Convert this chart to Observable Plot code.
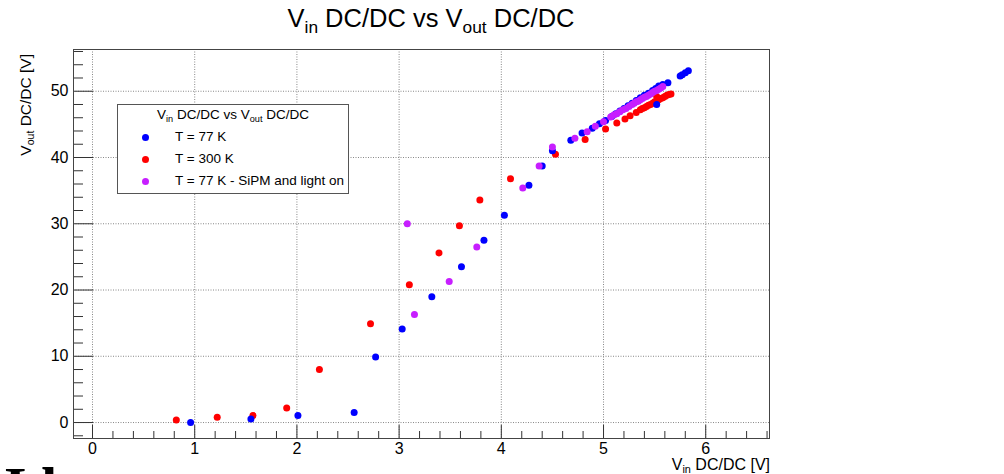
<!DOCTYPE html>
<html>
<head>
<meta charset="utf-8">
<script src="https://cdn.jsdelivr.net/npm/d3@7"></script>
<script src="https://cdn.jsdelivr.net/npm/@observablehq/plot@0.6"></script>
<style>
  html, body { margin: 0; padding: 0; background: #fff; overflow: hidden; }
  #wrap { position: relative; width: 1004px; height: 474px; font-family: "Liberation Sans", Arial, sans-serif; color: #000; }
  #chart { position: absolute; left: 0; top: 0; }
  .sub { font-size: 0.68em; position: relative; top: 0.32em; }
  #title { position: absolute; left: 0; top: 4px; width: 862px; text-align: center; font-size: 25.5px; white-space: nowrap; }
  #xtitle { position: absolute; right: 234px; top: 456px; font-size: 16px; line-height: 17px; white-space: nowrap; }
  #ytitle { position: absolute; left: 26px; top: 54px; font-size: 15.5px; white-space: nowrap;
            transform-origin: 0 0; transform: rotate(-90deg) translate(-100%, -50%); }
  #legend { position: absolute; left: 117px; top: 104px; width: 230px; height: 88px;
            border: 1px solid #555; background: #fff; font-size: 13.5px; }
  #legend .head { position: absolute; left: 0; right: 0; top: 2px; text-align: center; white-space: nowrap; }
  #legend .row { position: absolute; left: 0; white-space: nowrap; }
  #legend .dot { position: absolute; left: 24px; width: 7px; height: 7px; border-radius: 50%; }
  #legend .lab { position: absolute; left: 57px; top: 0; }
  #frag { position: absolute; left: 4px; top: 473px; font-family: "Liberation Serif", serif; font-weight: bold;
          font-size: 58px; line-height: 30px; height: 30px; white-space: nowrap; }
</style>
</head>
<body>
<div id="wrap">
  <div id="chart"></div>
  <div id="title">V<span class="sub">in</span> DC/DC vs V<span class="sub">out</span> DC/DC</div>
  <div id="ytitle">V<span class="sub">out</span> DC/DC [V]</div>
  <div id="xtitle">V<span class="sub">in</span> DC/DC [V]</div>
  <div id="legend"></div>
  <div id="frag">I have</div>
</div>
<script>
// T = 77 K
const vin77  = [0.96, 1.55, 2.01, 2.56, 2.77, 3.03, 3.32, 3.61, 3.83, 4.03, 4.27, 4.40, 4.50, 4.68, 4.79, 4.89, 4.96, 5.02,
                5.08, 5.12, 5.16, 5.20, 5.24, 5.28, 5.32, 5.36, 5.40, 5.44, 5.48, 5.51, 5.54, 5.52, 5.58, 5.63,
                5.75, 5.77, 5.80, 5.83];
const vout77 = [0.0, 0.55, 1.05, 1.5, 9.9, 14.1, 19.0, 23.5, 27.5, 31.3, 35.8, 38.7, 41.0, 42.6, 43.7, 44.4, 45.1, 45.6,
                46.2, 46.6, 47.0, 47.4, 47.8, 48.2, 48.6, 49.0, 49.4, 49.7, 50.1, 50.4, 50.8, 48.0, 51.0, 51.3,
                52.3, 52.5, 52.8, 53.1];

// T = 300 K
const vin300  = [0.82, 1.22, 1.57, 1.90, 2.22, 2.72, 3.10, 3.39, 3.59, 3.79, 4.09, 4.53, 4.82, 5.02, 5.13, 5.21, 5.26, 5.32,
                 5.36, 5.38, 5.40, 5.42, 5.44, 5.46, 5.48, 5.50, 5.52, 5.52, 5.54, 5.56, 5.58, 5.60, 5.62, 5.64, 5.66];
const vout300 = [0.4, 0.8, 1.05, 2.2, 8.0, 14.9, 20.8, 25.6, 29.7, 33.6, 36.8, 40.5, 42.7, 44.3, 45.2, 45.8, 46.3, 46.8,
                 47.2, 47.4, 47.5, 47.7, 47.9, 48.0, 48.2, 48.4, 48.5, 49.2, 48.7, 48.9, 49.0, 49.2, 49.4, 49.5, 49.6];

// T = 77 K - SiPM and light on
const vinLight  = [3.08, 3.15, 3.49, 3.76, 4.21, 4.37, 4.50, 4.72, 4.84, 4.92, 5.00,
                   5.07, 5.10, 5.13, 5.16, 5.19, 5.22, 5.25, 5.28, 5.30, 5.32, 5.34, 5.36, 5.38, 5.40, 5.42, 5.44,
                   5.46, 5.48, 5.50, 5.52, 5.54, 5.56, 5.58];
const voutLight = [30.0, 16.3, 21.3, 26.5, 35.4, 38.7, 41.6, 42.9, 43.9, 44.7, 45.4,
                   46.1, 46.4, 46.6, 46.9, 47.2, 47.4, 47.7, 48.0, 48.2, 48.4, 48.5, 48.7, 48.9, 49.1, 49.2, 49.4,
                   49.6, 49.8, 50.0, 50.1, 50.3, 50.5, 50.7];

const seriesNames  = ["T = 77 K", "T = 300 K", "T = 77 K - SiPM and light on"];
const seriesColors = ["#0000ff", "#ff0000", "#c71eff"];

const xMajorTicks = [0, 1, 2, 3, 4, 5, 6];
const yMajorTicks = [0, 10, 20, 30, 40, 50];

// Build a long table, one row per measurement
const rows = [];
[[vin300, vout300, 1], [vin77, vout77, 0], [vinLight, voutLight, 2]].forEach(([xs, ys, k]) => {
  xs.forEach((v, i) => rows.push({vin: v, vout: ys[i], series: seriesNames[k]}));
});

const W = 1004, H = 474;
const mL = 73, mR = 235, mT = 49, mB = 36;
const frameW = W - mL - mR, frameH = H - mT - mB;

const xMinor = d3.range(0, 6.61, 0.2).filter(v => Math.abs(v - Math.round(v)) > 1e-6);
const yMinor = d3.range(-2, 56.1, 2).filter(v => v % 10 !== 0);

const chart = Plot.plot({
  width: W, height: H,
  marginLeft: mL, marginRight: mR, marginTop: mT, marginBottom: mB,
  style: {fontFamily: "Liberation Sans, Arial, sans-serif", fontSize: "16px", background: "transparent", color: "#000"},
  x: {domain: [-0.186, 6.624], label: null},
  y: {domain: [-2.41, 56.3], label: null},
  color: {domain: seriesNames, range: seriesColors},
  marks: [
    // dotted grid
    Plot.ruleX(xMajorTicks, {stroke: "#888", strokeWidth: 1, strokeDasharray: "1,1.5"}),
    Plot.ruleY(yMajorTicks, {stroke: "#888", strokeWidth: 1, strokeDasharray: "1,1.5"}),
    // inward ticks on the bottom and left axes
    Plot.ruleX(xMajorTicks, {insetTop: frameH - 13, stroke: "#333"}),
    Plot.ruleX(xMinor, {insetTop: frameH - 7, stroke: "#333"}),
    Plot.ruleY(yMajorTicks, {insetRight: frameW - 20, stroke: "#333"}),
    Plot.ruleY(yMinor, {insetRight: frameW - 10, stroke: "#333"}),
    Plot.frame({stroke: "#444", strokeWidth: 1}),
    Plot.axisX({ticks: xMajorTicks, tickSize: 0, tickPadding: 4, tickFormat: d => String(d), label: null}),
    Plot.axisY({ticks: yMajorTicks, tickSize: 0, tickPadding: 5, tickFormat: d => String(d), label: null}),
    Plot.dot(rows, {x: "vin", y: "vout", fill: "series", r: 3.5, stroke: null})
  ]
});
document.getElementById("chart").append(chart);

// Legend box
const legend = document.getElementById("legend");
legend.innerHTML = '<div class="head">V<span class="sub">in</span> DC/DC vs V<span class="sub">out</span> DC/DC</div>';
seriesNames.forEach((name, i) => {
  const row = document.createElement("div");
  row.className = "row";
  row.style.top = (24 + i * 22) + "px";
  row.innerHTML = `<span class="dot" style="background:${seriesColors[i]};top:5px"></span><span class="lab">${name}</span>`;
  legend.append(row);
});
</script>
</body>
</html>
